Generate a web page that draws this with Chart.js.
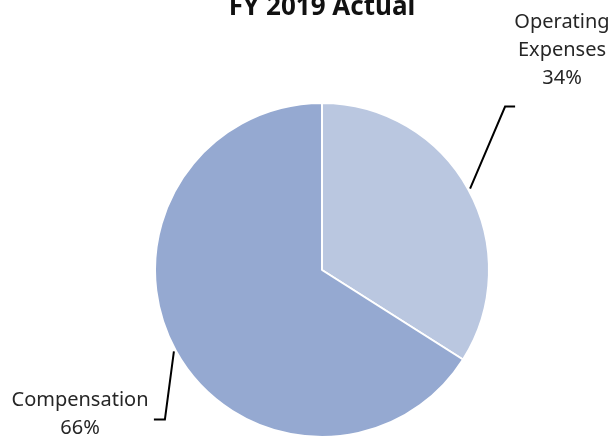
<!DOCTYPE html>
<html>
<head>
<meta charset="utf-8">
<script src="https://cdn.jsdelivr.net/npm/chart.js@4.4.1/dist/chart.umd.min.js"></script>
<style>
  html, body { margin: 0; padding: 0; background: #fff; }
  #wrap { width: 613px; height: 440px; }
</style>
</head>
<body>
<div id="wrap"><canvas id="fy-pie"></canvas></div>
<script>
// data
const categories = ['Operating Expenses', 'Compensation'];
const shares = [34, 66];
const labelLines = [['Operating', 'Expenses', '34%'], ['Compensation', '66%']];
const sliceColors = ['#bac7e0', '#95a9d1'];
const titleText = 'FY 2019 Actual';

const FONT = '"Noto Sans", "Open Sans", sans-serif';

// leader line: elbow offset from arc edge, then horizontal tail, then text anchor
const leaderStyle = [
  { elbow: [35, -82], tail: 10, textX: 562, textY: [22, 50, 78] },
  { elbow: [-9, 68], tail: -11, textX: 80, textY: [400, 428] }
];

const leaderPlugin = {
  id: 'leaders',
  afterDatasetsDraw(chart) {
    const c = chart.ctx;
    const meta = chart.getDatasetMeta(0);
    c.save();
    // title, clipped at the top like the original
    c.fillStyle = '#111';
    c.font = 'bold 26px ' + FONT;
    c.textAlign = 'center';
    c.textBaseline = 'alphabetic';
    c.fillText(titleText, 322, 15);

    c.textBaseline = 'middle';
    meta.data.forEach((arc, i) => {
      const p = arc.getProps(['x', 'y', 'startAngle', 'endAngle', 'outerRadius'], true);
      const mid = (p.startAngle + p.endAngle) / 2;
      const r = p.outerRadius + 2;
      const sx = p.x + Math.cos(mid) * r;
      const sy = p.y + Math.sin(mid) * r;
      const st = leaderStyle[i];
      const ex = sx + st.elbow[0];
      const ey = sy + st.elbow[1];
      c.strokeStyle = '#000';
      c.lineWidth = 2;
      c.beginPath();
      c.moveTo(sx, sy);
      c.lineTo(ex, ey);
      c.lineTo(ex + st.tail, ey);
      c.stroke();

      c.fillStyle = '#262626';
      c.font = '20px ' + FONT;
      labelLines[i].forEach((t, k) => {
        c.fillText(t, st.textX, st.textY[k]);
      });
    });
    c.restore();
  }
};

const ctx = document.getElementById('fy-pie').getContext('2d');
new Chart(ctx, {
  type: 'pie',
  data: {
    labels: categories,
    datasets: [{
      data: shares,
      backgroundColor: sliceColors,
      borderColor: '#ffffff',
      borderWidth: 2
    }]
  },
  options: {
    responsive: true,
    maintainAspectRatio: false,
    animation: false,
    layout: { padding: { top: 102, bottom: 2, left: 31, right: 0 } },
    plugins: {
      legend: { display: false },
      tooltip: { enabled: false }
    }
  },
  plugins: [leaderPlugin]
});
</script>
</body>
</html>
